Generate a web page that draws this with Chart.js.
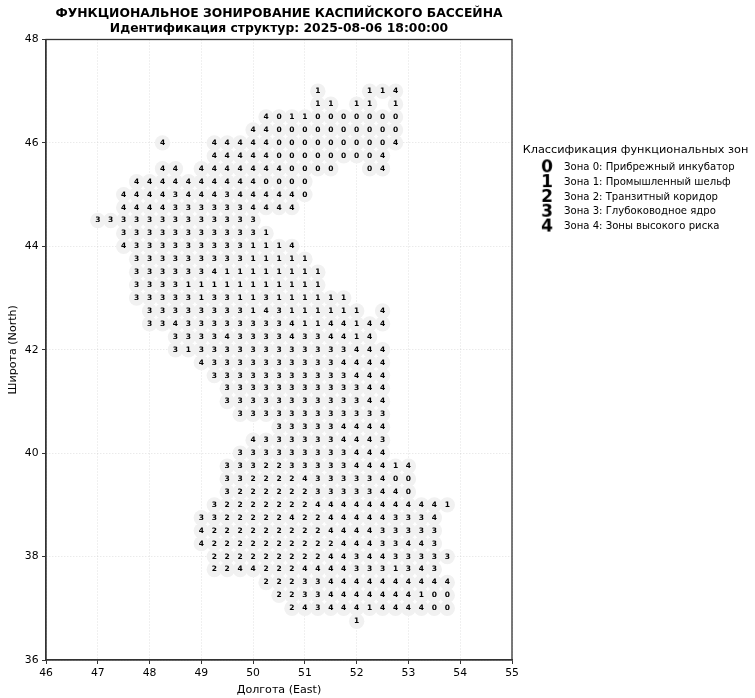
<!DOCTYPE html>
<html><head><meta charset="utf-8">
<style>html,body{margin:0;padding:0;background:#fff}canvas{display:block}</style>
<script src="https://cdn.jsdelivr.net/npm/chart.js@4/dist/chart.umd.min.js"></script>
</head><body><canvas id="c" width="755" height="698"></canvas>
<script>
const titleLines = ["ФУНКЦИОНАЛЬНОЕ ЗОНИРОВАНИЕ КАСПИЙСКОГО БАССЕЙНА","Идентификация структур: 2025-08-06 18:00:00"];
const legendTitle = "Классификация функциональных зон";
const zones = ["0","1","2","3","4"];
const zoneNames = ["Зона 0: Прибрежный инкубатор","Зона 1: Промышленный шельф","Зона 2: Транзитный коридор","Зона 3: Глубоководное ядро","Зона 4: Зоны высокого риска"];
const xTitle = "Долгота (East)";
const yTitle = "Широта (North)";
const lons = [47,47.25,47.5,47.75,48,48.25,48.5,48.75,49,49.25,49.5,49.75,50,50.25,50.5,50.75,51,51.25,51.5,51.75,52,52.25,52.5,52.75,53,53.25,53.5,53.75];
const lats = [47,46.75,46.5,46.25,46,45.75,45.5,45.25,45,44.75,44.5,44.25,44,43.75,43.5,43.25,43,42.75,42.5,42.25,42,41.75,41.5,41.25,41,40.75,40.5,40.25,40,39.75,39.5,39.25,39,38.75,38.5,38.25,38,37.75,37.5,37.25,37,36.75];
const zoneRows = [
".................1...114....",
".................11.11.1....",
".............40110000000....",
"............440000000000....",
".....4...444440000000004....",
".........44444000000004.....",
".....44.44444440000..04.....",
"...44444444440000...........",
"..444434443444440...........",
"..44443333334444............",
"3333333333333...............",
"..333333333331..............",
"..43333333331114............",
"...33333333311111...........",
"...333333411111111..........",
"...333311111111111..........",
"...33333133113111111........",
"....33333333143111111.4.....",
"....3343333333341144144.....",
"......3333433334334414......",
"......31333333333333444.....",
"........433333333334444.....",
".........33333333333444.....",
"..........3333333333344.....",
"..........3333333333344.....",
"...........333333333333.....",
"..............333334444.....",
"............43333334443.....",
"...........333333333444.....",
"..........333223333344414...",
"..........332222433333400...",
"..........322222233333440...",
".........3222222244444444441",
"........3322222422444443334.",
"........4222222222444433333.",
"........4222222222244433443.",
".........2222222224434433333",
".........224422244443331343.",
".............222334444444444",
"..............22334444444100",
"...............2434441444400",
"....................1......."
];
const xMin=46,xMax=55,yMin=36,yMax=48;

const datasets = zones.map(z=>{
  const pts=[];
  zoneRows.forEach((row,r)=>{[...row].forEach((ch,c)=>{ if(ch===z) pts.push({x:lons[c],y:lats[r]}); });});
  return {label:z,data:pts,showLine:false,pointRadius:7.7,pointHoverRadius:7.7,pointBorderWidth:0,pointBackgroundColor:'#f1f1f1',pointBorderColor:'#f1f1f1'};
});

const FONT='"DejaVu Sans"';
function digitIcon(d){
  const w=34,h=22,cv=document.createElement('canvas');cv.width=w;cv.height=h;
  const g=cv.getContext('2d');g.fillStyle='#000';g.font='bold 17px '+FONT;g.textAlign='center';g.textBaseline='middle';
  g.fillText(d,w/2+5.2,h/2+1);return cv;
}
const icons=zones.map(digitIcon);

const overlay={
  id:'overlay',
  beforeLayout(chart){
    const lg=chart.legend;
    if(lg&&!lg._wrapped){const f=lg.fit.bind(lg);lg.fit=function(){f();this.width=243;};lg._wrapped=true;}
  },
  afterLayout(chart){
    const lg=chart.legend;
    lg.left=520;lg.right=755;lg.top=144;lg.bottom=698;lg.width=231;
  },
  afterDatasetsDraw(chart){
    const ctx=chart.ctx;ctx.save();
    ctx.font='bold 7.5px '+FONT;ctx.fillStyle='#000';ctx.textAlign='center';ctx.textBaseline='middle';
    chart.data.datasets.forEach((ds,i)=>{
      chart.getDatasetMeta(i).data.forEach(el=>{ctx.fillText(ds.label,el.x,el.y);});
    });
    const a=chart.chartArea;
    ctx.strokeStyle='#333';ctx.lineWidth=1.3;ctx.strokeRect(a.left,a.top,a.right-a.left,a.bottom-a.top);
    ctx.restore();
  }
};

new Chart(document.getElementById('c'),{
  type:'scatter',
  data:{datasets},
  plugins:[overlay],
  options:{
    responsive:false,animation:false,devicePixelRatio:1,
    layout:{padding:0},
    font:{family:FONT},
    plugins:{
      tooltip:{enabled:false},
      title:{display:true,text:titleLines,fullSize:false,color:'#000',font:{family:FONT,size:12.35,weight:'bold',lineHeight:1.17},padding:{top:7,bottom:3.6}},
      legend:{display:true,position:'right',align:'start',
        title:{display:true,text:legendTitle,color:'#000',font:{family:FONT,size:11.3},padding:{top:0,bottom:0}},
        labels:{usePointStyle:true,pointStyleWidth:34.25,padding:4.7,color:'#000',font:{family:FONT,size:10.1},
          generateLabels(){return zones.map((z,i)=>({text:zoneNames[i],pointStyle:icons[i],fontColor:'#000',hidden:false,datasetIndex:i}));}}
      }
    },
    scales:{
      x:{type:'linear',min:xMin,max:xMax,position:'bottom',
        afterFit(s){s.height=38;},
        title:{display:true,text:xTitle,color:'#000',font:{family:FONT,size:11.1},padding:{top:0,bottom:1.5}},
        ticks:{stepSize:1,color:'#000',font:{family:FONT,size:10.8},maxRotation:0,padding:3,autoSkip:false},
        grid:{color:'rgba(170,170,170,0.35)',lineWidth:1,tickColor:'#333',tickLength:4,tickBorderDash:[]},
        border:{display:true,color:'#333',width:1.3,dash:[1,2]}},
      y:{type:'linear',min:yMin,max:yMax,position:'left',
        afterFit(s){s.width=46;},
        title:{display:true,text:yTitle,color:'#000',font:{family:FONT,size:11.1},padding:{top:6,bottom:0}},
        ticks:{stepSize:2,color:'#000',font:{family:FONT,size:10.8},padding:3.5,autoSkip:false},
        grid:{color:'rgba(170,170,170,0.35)',lineWidth:1,tickColor:'#333',tickLength:4,tickBorderDash:[]},
        border:{display:true,color:'#333',width:1.3,dash:[1,2]}}
    }
  }
});
</script></body></html>
